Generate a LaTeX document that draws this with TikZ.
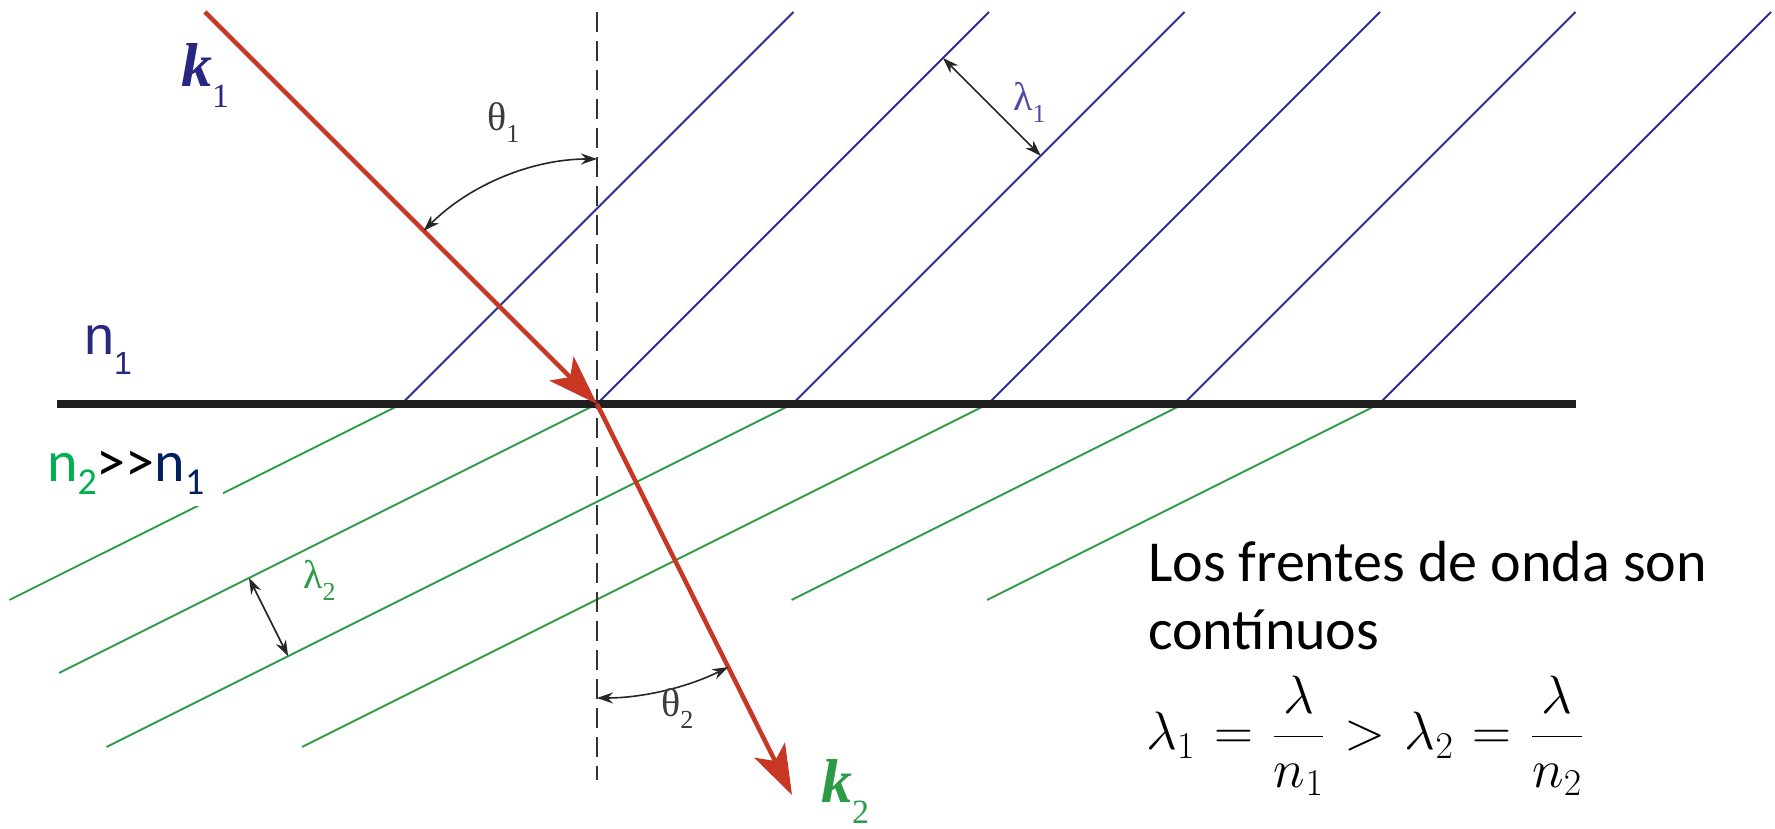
\documentclass[tikz,border=0pt]{standalone}
\usepackage{fix-cm}
\usepackage{fontspec}
\setmainfont{Carlito}
\newfontfamily\figserif{Liberation Serif}
\newfontfamily\figsans{Liberation Sans}
\usetikzlibrary{arrows.meta,calc}

\definecolor{rojorayo}{RGB}{200,55,35}
\definecolor{azulfrente}{RGB}{45,45,150}
\definecolor{verdefrente}{RGB}{45,155,70}
\definecolor{verdeppt}{RGB}{0,176,80}
\definecolor{azulppt}{RGB}{0,32,96}
\definecolor{azuletiq}{RGB}{40,40,130}
\definecolor{grisetiq}{RGB}{60,60,60}

\begin{document}
\begin{tikzpicture}[x=1pt,y=1pt]
  \tikzstyle{frente}=[line width=1.8pt]
  \tikzstyle{rayo}=[draw=rojorayo,line width=4.5pt,-{Stealth[length=50pt,width=34pt,inset=12pt]}]
  \tikzstyle{angulo}=[line width=1.6pt,draw=black!85,{Stealth[length=16pt,width=11pt]}-{Stealth[length=16pt,width=11pt]}]
  \tikzstyle{etiq}=[inner sep=0pt,anchor=base west]
  \useasboundingbox (0,0) rectangle (1775,829);

  \coordinate (O) at (597,425);
  \coordinate (normalA) at (597,817);
  \coordinate (normalB) at (597,49);
  \coordinate (interA) at (57,425);
  \coordinate (interB) at (1576,425);
  \coordinate (fuente) at (205,817);
  \coordinate (destino) at (792,34);

  % frentes de onda
  \foreach \i/\d in {0/196,1/269,2/343,3/343,4/196,5/196}{
    \coordinate (p\i) at ($(O)+(195.5*\i-195.5,0)$);
    \draw[frente,azulfrente] (p\i) -- ++(392,392);
    \draw[frente,verdefrente] (p\i) -- ++(-2*\d,-\d);
  }

  \draw[line width=8pt,black!88] (interA) -- (interB);
  \draw[line width=2pt,black!80,dash pattern=on 20pt off 9pt] (normalA) -- (normalB);

  \draw[rayo] (fuente) -- (O);
  \draw[rayo] (O) -- (destino);

  \draw[angulo] (O) ++(90:245pt) arc[start angle=90,end angle=135,radius=245pt];
  \draw[angulo] (O) ++(270:294pt) arc[start angle=270,end angle=296.5,radius=294pt];

  \coordinate (l1a) at ($(p1)+(346,346)$);
  \coordinate (l1b) at ($(l1a)+(97.75,-97.75)$);
  \draw[angulo] (l1a) -- (l1b);
  \coordinate (l2a) at ($(p1)+(-348,-174)$);
  \coordinate (l2b) at ($(l2a)+(39.1,-78.2)$);
  \draw[angulo] (l2a) -- (l2b);

  \node[etiq,text=azuletiq] (k1) at (181,742) {\figserif\fontsize{62}{62}\selectfont\bfseries\itshape k\raisebox{-21pt}{\mdseries\upshape\fontsize{34}{34}\selectfont 1}};
  \node[etiq,text=verdefrente] (k2) at (821,26) {\figserif\fontsize{62}{62}\selectfont\bfseries\itshape k\raisebox{-21pt}{\mdseries\upshape\fontsize{34}{34}\selectfont 2}};
  \node[etiq,text=grisetiq] (th1) at (487,698) {\figserif\fontsize{40}{40}\selectfont θ\raisebox{-12pt}{\fontsize{26}{26}\selectfont 1}};
  \node[etiq,text=grisetiq] (th2) at (661,112) {\figserif\fontsize{40}{40}\selectfont θ\raisebox{-12pt}{\fontsize{26}{26}\selectfont 2}};
  \node[etiq,text=azulfrente!85] (lam1) at (1013,718) {\figserif\fontsize{40}{40}\selectfont λ\raisebox{-12pt}{\fontsize{26}{26}\selectfont 1}};
  \node[etiq,text=verdefrente] (lam2) at (303,240) {\figserif\fontsize{40}{40}\selectfont λ\raisebox{-12pt}{\fontsize{26}{26}\selectfont 2}};
  \node[etiq,text=azuletiq] (n1) at (84,474) {\figsans\fontsize{54}{54}\selectfont n\raisebox{-20pt}{\fontsize{32}{32}\selectfont 1}};

  \node[anchor=base west,fill=white,inner xsep=19pt,inner ysep=11pt,font=\fontsize{58}{60}\selectfont] (medios) at (28,347)
    {\textcolor{verdeppt}{n\raisebox{-13pt}{\fontsize{38}{38}\selectfont 2}}>\kern0pt>\textcolor{azulppt}{n\raisebox{-13pt}{\fontsize{38}{38}\selectfont 1}}};

  \node[etiq,font=\fontsize{58}{68}\selectfont] (linea1) at (1148,247) {Los frentes de onda son};
  \node[etiq,font=\fontsize{58}{68}\selectfont] (linea2) at (1148,179) {contínuos};
  \node[etiq,font=\fontsize{54}{60}\selectfont] (ecuacion) at (1146,79) {\thickmuskip=6.5mu$\displaystyle \lambda_1=\frac{\lambda}{n_1}>\lambda_2=\frac{\lambda}{n_2}$};
\end{tikzpicture}
\end{document}
